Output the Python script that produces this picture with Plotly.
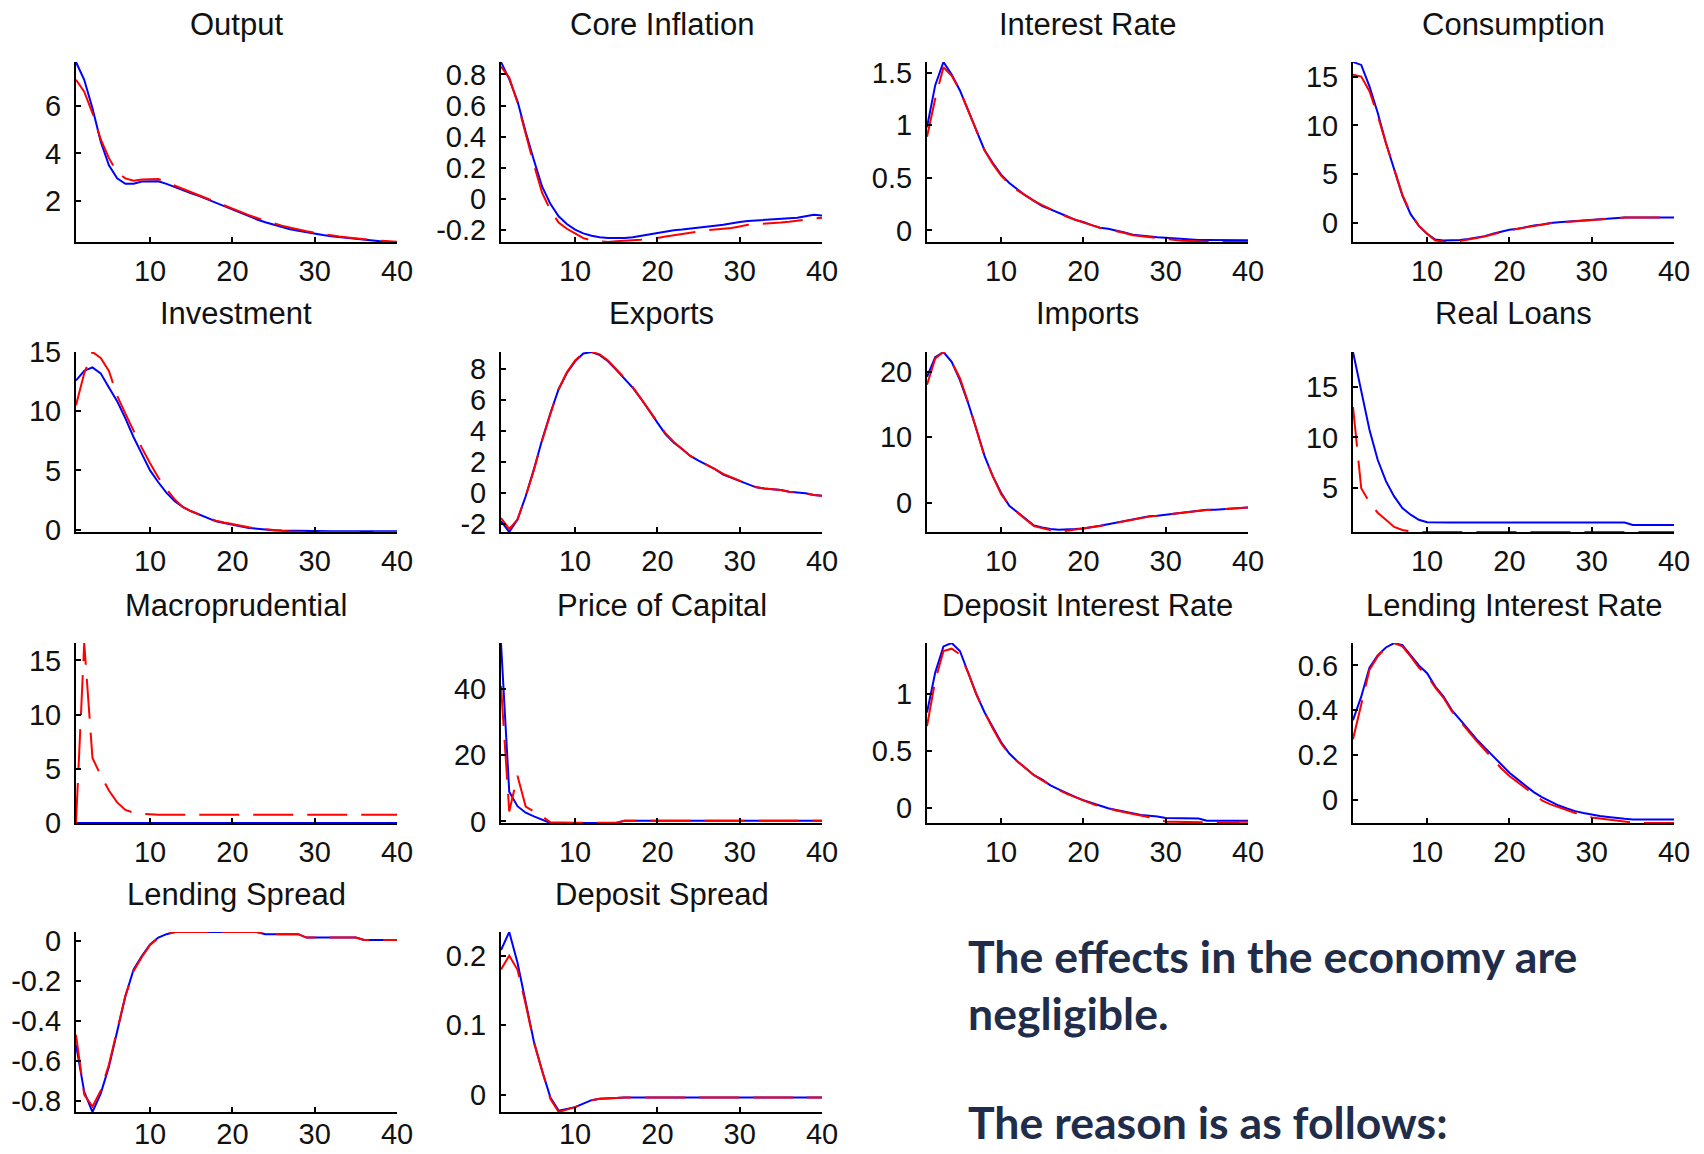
import plotly.graph_objects as go

periods = list(range(1, 41))

titles = ["Output", "Core Inflation", "Interest Rate", "Consumption",
          "Investment", "Exports", "Imports", "Real Loans",
          "Macroprudential", "Price of Capital", "Deposit Interest Rate", "Lending Interest Rate",
          "Lending Spread", "Deposit Spread"]

output_blue = [7.85, 7.1, 5.9, 4.5, 3.5, 2.95, 2.72, 2.72, 2.82, 2.83, 2.83, 2.72, 2.58, 2.45, 2.32, 2.2, 2.06, 1.92, 1.78, 1.63,
               1.48, 1.34, 1.22, 1.1, 1.0, 0.9, 0.81, 0.74, 0.67, 0.62, 0.56, 0.51, 0.47, 0.43, 0.4, 0.36, 0.33, 0.3, 0.28, 0.27]
output_red = [7.1, 6.6, 5.7, 4.6, 3.8, 3.2, 2.95, 2.85, 2.9, 2.92, 2.92, 2.78, 2.64, 2.5, 2.37, 2.25, 2.1, 1.97, 1.83, 1.68,
              1.53, 1.4, 1.28, 1.16, 1.06, 0.96, 0.87, 0.79, 0.72, 0.66, 0.6, 0.55, 0.5, 0.46, 0.42, 0.38, 0.35, 0.32, 0.3, 0.28]

infl_blue = [0.88, 0.77, 0.63, 0.43, 0.25, 0.08, -0.03, -0.11, -0.16, -0.195, -0.22, -0.235, -0.245, -0.25, -0.25, -0.25, -0.245, -0.235, -0.228, -0.217,
             -0.21, -0.2, -0.195, -0.188, -0.182, -0.175, -0.17, -0.165, -0.155, -0.147, -0.14, -0.137, -0.133, -0.13, -0.128, -0.125, -0.12, -0.11, -0.1, -0.105]
infl_red = [0.85, 0.78, 0.62, 0.42, 0.22, 0.04, -0.07, -0.15, -0.19, -0.22, -0.25, -0.265, -0.27, -0.275, -0.27, -0.268, -0.265, -0.26, -0.255, -0.25,
            -0.24, -0.232, -0.225, -0.215, -0.205, -0.2, -0.195, -0.19, -0.185, -0.175, -0.165, -0.16, -0.158, -0.155, -0.15, -0.145, -0.14, -0.132, -0.125, -0.12]

rate_blue = [0.98, 1.38, 1.6, 1.48, 1.33, 1.14, 0.94, 0.76, 0.64, 0.53, 0.45, 0.39, 0.33, 0.28, 0.23, 0.2, 0.17, 0.135, 0.1, 0.08,
             0.05, 0.025, 0.015, 0.0, -0.02, -0.04, -0.05, -0.055, -0.065, -0.07, -0.075, -0.085, -0.088, -0.09, -0.09, -0.09, -0.092, -0.092, -0.093, -0.093]
rate_red = [0.89, 1.25, 1.55, 1.47, 1.33, 1.14, 0.94, 0.76, 0.63, 0.52, 0.44, 0.38, 0.33, 0.28, 0.24, 0.2, 0.165, 0.13, 0.1, 0.075,
            0.05, 0.025, 0.01, -0.005, -0.025, -0.045, -0.055, -0.065, -0.075, -0.08, -0.09, -0.098, -0.1, -0.105, -0.108, -0.11, -0.11, -0.11, -0.11, -0.11]

cons_blue = [16.5, 16.2, 14.0, 11.3, 8.2, 5.5, 2.8, 0.9, -0.3, -1.1, -1.7, -1.8, -1.8, -1.75, -1.65, -1.5, -1.35, -1.1, -0.9, -0.7,
             -0.6, -0.4, -0.27, -0.15, 0.0, 0.07, 0.13, 0.24, 0.3, 0.34, 0.4, 0.5, 0.55, 0.55, 0.55, 0.55, 0.55, 0.55, 0.55, 0.55]
cons_red = [15.2, 15.0, 13.5, 11.0, 8.2, 5.5, 2.9, 1.0, -0.3, -1.1, -1.8, -1.9, -1.95, -1.85, -1.7, -1.55, -1.4, -1.15, -0.95, -0.75,
            -0.6, -0.45, -0.3, -0.15, -0.02, 0.05, 0.12, 0.2, 0.27, 0.33, 0.4, 0.48, 0.53, 0.55, 0.55, 0.55, 0.55, 0.55, 0.55, 0.55]

inv_blue = [12.6, 13.4, 13.7, 13.2, 12.0, 10.85, 9.4, 7.8, 6.4, 5.0, 4.0, 3.1, 2.4, 1.9, 1.55, 1.27, 1.0, 0.7, 0.56, 0.42,
            0.28, 0.14, 0.08, 0.0, -0.05, -0.08, -0.1, -0.12, -0.13, -0.14, -0.14, -0.14, -0.14, -0.14, -0.14, -0.14, -0.14, -0.14, -0.14, -0.14]
inv_red = [10.5, 13.2, 15.0, 14.5, 13.4, 11.3, 9.8, 8.3, 6.9, 5.6, 4.4, 3.4, 2.55, 1.9, 1.55, 1.27, 1.0, 0.75, 0.6, 0.45,
           0.3, 0.2, 0.1, 0.02, -0.05, -0.1, -0.15, -0.2, -0.2, -0.2, -0.2, -0.2, -0.2, -0.2, -0.2, -0.2, -0.2, -0.2, -0.2, -0.2]

exp_blue = [-1.8, -2.5, -1.7, -0.2, 1.55, 3.45, 5.15, 6.7, 7.75, 8.5, 9.0, 9.1, 8.9, 8.5, 7.95, 7.4, 6.8, 6.1, 5.3, 4.55,
            3.8, 3.25, 2.85, 2.4, 2.1, 1.85, 1.55, 1.2, 1.0, 0.8, 0.6, 0.38, 0.3, 0.25, 0.2, 0.1, 0.05, 0.0, -0.12, -0.17]
exp_red = [-1.6, -2.3, -1.7, -0.2, 1.5, 3.4, 5.1, 6.7, 7.8, 8.55, 9.05, 9.1, 8.95, 8.55, 8.0, 7.4, 6.85, 6.1, 5.35, 4.6,
           3.85, 3.3, 2.85, 2.4, 2.1, 1.85, 1.55, 1.25, 1.0, 0.8, 0.6, 0.4, 0.3, 0.25, 0.2, 0.1, 0.05, 0.0, -0.12, -0.17]

imp_blue = [19.2, 22.2, 23.0, 21.5, 18.7, 15.2, 11.2, 7.1, 4.0, 1.5, -0.5, -1.5, -2.5, -3.5, -3.8, -4.05, -4.15, -4.15, -4.05, -3.95,
            -3.8, -3.55, -3.3, -3.05, -2.8, -2.55, -2.3, -2.1, -2.0, -1.85, -1.75, -1.6, -1.4, -1.25, -1.1, -1.1, -1.0, -0.85, -0.75, -0.75]
imp_red = [18.0, 22.0, 23.0, 21.5, 19.0, 15.3, 11.2, 7.0, 4.0, 1.3, -0.5, -1.6, -2.6, -3.6, -3.9, -4.2, -4.5, -4.3, -4.15, -4.0,
           -3.85, -3.6, -3.35, -3.1, -2.8, -2.55, -2.35, -2.15, -2.0, -1.85, -1.75, -1.6, -1.45, -1.3, -1.15, -1.1, -1.0, -0.9, -0.8, -0.75]

loans_blue = [18.4, 14.7, 10.75, 7.8, 5.7, 4.2, 3.05, 2.4, 1.9, 1.67, 1.64, 1.64, 1.64, 1.64, 1.64, 1.64, 1.64, 1.64, 1.64, 1.64,
              1.64, 1.64, 1.64, 1.64, 1.64, 1.64, 1.64, 1.64, 1.64, 1.64, 1.64, 1.64, 1.64, 1.64, 1.4, 1.4, 1.4, 1.4, 1.4, 1.4]
loans_red = [13.0, 5.0, 3.6, 2.6, 1.9, 1.2, 0.9, 0.75, 0.7, 0.7, 0.7, 0.7, 0.7, 0.7, 0.7, 0.7, 0.7, 0.7, 0.7, 0.7,
             0.7, 0.7, 0.7, 0.7, 0.7, 0.7, 0.7, 0.7, 0.7, 0.7, 0.7, 0.7, 0.7, 0.7, 0.7, 0.7, 0.7, 0.7, 0.7, 0.7]

macro_blue = [0.0, 0.0, 0.0, 0.0, 0.0, 0.0, 0.0, 0.0, 0.0, 0.0, 0.0, 0.0, 0.0, 0.0, 0.0, 0.0, 0.0, 0.0, 0.0, 0.0,
              0.0, 0.0, 0.0, 0.0, 0.0, 0.0, 0.0, 0.0, 0.0, 0.0, 0.0, 0.0, 0.0, 0.0, 0.0, 0.0, 0.0, 0.0, 0.0, 0.0]
macro_red = [0.0, 16.6, 6.0, 4.4, 3.0, 1.9, 1.2, 0.95, 0.85, 0.78, 0.75, 0.75, 0.75, 0.75, 0.75, 0.75, 0.75, 0.75, 0.75, 0.75,
             0.75, 0.75, 0.75, 0.75, 0.75, 0.75, 0.75, 0.75, 0.75, 0.75, 0.75, 0.75, 0.75, 0.75, 0.75, 0.75, 0.75, 0.75, 0.75, 0.75]

pk_blue = [54.0, 9.0, 4.6, 2.6, 1.5, 0.5, -0.5, -0.5, -0.5, -0.5, -0.5, -0.5, -0.5, -0.5, -0.5, 0.2, 0.2, 0.2, 0.2, 0.2,
           0.2, 0.2, 0.2, 0.2, 0.2, 0.2, 0.2, 0.2, 0.2, 0.2, 0.2, 0.2, 0.2, 0.2, 0.2, 0.2, 0.2, 0.2, 0.2, 0.2]
pk_red = [41.0, 3.0, 13.8, 4.5, 3.0, 1.5, -0.3, -0.4, -0.4, -0.4, -0.4, -0.4, -0.4, -0.4, -0.4, 0.2, 0.2, 0.2, 0.2, 0.2,
          0.2, 0.2, 0.2, 0.2, 0.2, 0.2, 0.2, 0.2, 0.2, 0.2, 0.2, 0.2, 0.2, 0.2, 0.2, 0.2, 0.2, 0.2, 0.2, 0.2]

dep_blue = [0.84, 1.19, 1.42, 1.45, 1.38, 1.19, 1.0, 0.84, 0.71, 0.58, 0.48, 0.41, 0.35, 0.29, 0.25, 0.2, 0.165, 0.13, 0.1, 0.07,
            0.045, 0.02, 0.0, -0.015, -0.03, -0.045, -0.06, -0.067, -0.073, -0.087, -0.087, -0.087, -0.09, -0.09, -0.11, -0.11, -0.11, -0.11, -0.11, -0.11]
dep_red = [0.72, 1.12, 1.38, 1.4, 1.35, 1.19, 1.0, 0.84, 0.7, 0.57, 0.47, 0.41, 0.35, 0.29, 0.245, 0.2, 0.16, 0.125, 0.095, 0.065,
           0.04, 0.015, -0.005, -0.02, -0.035, -0.05, -0.065, -0.08, -0.085, -0.12, -0.12, -0.12, -0.12, -0.12, -0.12, -0.12, -0.125, -0.13, -0.12, -0.12]

lend_blue = [0.355, 0.46, 0.59, 0.645, 0.68, 0.7, 0.69, 0.645, 0.6, 0.565, 0.505, 0.46, 0.4, 0.357, 0.313, 0.27, 0.232, 0.195, 0.158, 0.12,
             0.09, 0.062, 0.032, 0.01, -0.009, -0.027, -0.04, -0.052, -0.06, -0.068, -0.074, -0.078, -0.083, -0.086, -0.089, -0.089, -0.089, -0.089, -0.089, -0.089]
lend_red = [0.27, 0.42, 0.58, 0.64, 0.68, 0.7, 0.685, 0.64, 0.59, 0.555, 0.5, 0.455, 0.395, 0.35, 0.305, 0.262, 0.222, 0.182, 0.14, 0.105,
            0.078, 0.05, 0.02, -0.005, -0.022, -0.035, -0.048, -0.06, -0.07, -0.08, -0.085, -0.09, -0.095, -0.1, -0.103, -0.105, -0.105, -0.105, -0.105, -0.105]

lspread_blue = [-0.52, -0.756, -0.857, -0.765, -0.63, -0.445, -0.277, -0.143, -0.076, -0.017, 0.017, 0.034, 0.045, 0.045, 0.045, 0.045, 0.045, 0.045, 0.045, 0.045,
                0.045, 0.045, 0.045, 0.034, 0.034, 0.034, 0.034, 0.034, 0.017, 0.017, 0.017, 0.017, 0.017, 0.017, 0.017, 0.005, 0.005, 0.005, 0.005, 0.005]
lspread_red = [-0.47, -0.77, -0.83, -0.75, -0.62, -0.44, -0.275, -0.15, -0.08, -0.02, 0.015, 0.034, 0.045, 0.045, 0.045, 0.045, 0.045, 0.045, 0.045, 0.045,
               0.045, 0.045, 0.045, 0.034, 0.034, 0.034, 0.034, 0.034, 0.017, 0.017, 0.017, 0.017, 0.017, 0.017, 0.017, 0.005, 0.005, 0.005, 0.005, 0.005]

dspread_blue = [0.208, 0.234, 0.19, 0.133, 0.076, 0.034, -0.004, -0.023, -0.02, -0.018, -0.013, -0.008, -0.006, -0.006, -0.005, -0.004, -0.004, -0.004, -0.004, -0.004,
                -0.004, -0.004, -0.004, -0.004, -0.004, -0.004, -0.004, -0.004, -0.004, -0.004, -0.004, -0.004, -0.004, -0.004, -0.004, -0.004, -0.004, -0.004, -0.004, -0.004]
dspread_red = [0.18, 0.2, 0.18, 0.13, 0.075, 0.033, -0.006, -0.025, -0.022, -0.018, -0.013, -0.008, -0.006, -0.006, -0.005, -0.004, -0.004, -0.004, -0.004, -0.004,
               -0.004, -0.004, -0.004, -0.004, -0.004, -0.004, -0.004, -0.004, -0.004, -0.004, -0.004, -0.004, -0.004, -0.004, -0.004, -0.004, -0.004, -0.004, -0.004, -0.004]

blue_series = [output_blue, infl_blue, rate_blue, cons_blue, inv_blue, exp_blue, imp_blue, loans_blue,
               macro_blue, pk_blue, dep_blue, lend_blue, lspread_blue, dspread_blue]
red_series = [output_red, infl_red, rate_red, cons_red, inv_red, exp_red, imp_red, loans_red,
              macro_red, pk_red, dep_red, lend_red, lspread_red, dspread_red]

y_ticks = [[2, 4, 6], [-0.2, 0, 0.2, 0.4, 0.6, 0.8], [0, 0.5, 1, 1.5], [0, 5, 10, 15],
           [0, 5, 10, 15], [-2, 0, 2, 4, 6, 8], [0, 10, 20], [5, 10, 15],
           [0, 5, 10, 15], [0, 20, 40], [0, 0.5, 1], [0, 0.2, 0.4, 0.6],
           [-0.8, -0.6, -0.4, -0.2, 0], [0, 0.1, 0.2]]
y_ticktext = [["2", "4", "6"], ["-0.2", "0", "0.2", "0.4", "0.6", "0.8"], ["0", "0.5", "1", "1.5"], ["0", "5", "10", "15"],
              ["0", "5", "10", "15"], ["-2", "0", "2", "4", "6", "8"], ["0", "10", "20"], ["5", "10", "15"],
              ["0", "5", "10", "15"], ["0", "20", "40"], ["0", "0.5", "1"], ["0", "0.2", "0.4", "0.6"],
              ["-0.8", "-0.6", "-0.4", "-0.2", "0"], ["0", "0.1", "0.2"]]
x_ticks = [10, 20, 30, 40]
x_ticktext = ["10", "20", "30", "40"]

note_lines = ["The effects in the economy are", "negligible.", "The reason is as follows:"]

W, H = 1704, 1154
col_left = [76, 501, 927, 1353]
row_top = [62, 352, 643, 932]
pw, ph = 321, 180

fig = go.Figure()
layout = dict(width=W, height=H, autosize=False, margin=dict(l=0, r=0, t=0, b=0, pad=0),
              paper_bgcolor="white", plot_bgcolor="white", showlegend=False,
              font=dict(family="Liberation Sans, Arial, sans-serif", size=29, color="black"))
annotations = []
tickfont = dict(family="Liberation Sans, Arial, sans-serif", size=29, color="#111111")

for i, title in enumerate(titles):
    r, c = divmod(i, 4)
    n = "" if i == 0 else str(i + 1)
    x0 = col_left[c] / W
    x1 = (col_left[c] + pw) / W
    y1 = 1 - row_top[r] / H
    y0 = 1 - (row_top[r] + ph) / H
    b = blue_series[i]
    rd = red_series[i]
    fig.add_trace(go.Scatter(x=periods, y=b, mode="lines", line=dict(color="#0000FF", width=2),
                             xaxis="x" + n, yaxis="y" + n))
    fig.add_trace(go.Scatter(x=periods, y=rd, mode="lines", line=dict(color="#FF0000", width=2, dash="40px,14px"),
                             xaxis="x" + n, yaxis="y" + n))
    ymin = min(min(b), min(rd))
    ymax = max(max(b), max(rd))
    standoff_x = -5 if r == 3 else 2
    layout["xaxis" + n] = dict(domain=[x0, x1], anchor="y" + n, range=[1, 40], showgrid=False, zeroline=False,
                               automargin=False,
                               showline=True, linecolor="black", linewidth=2, ticks="inside", ticklen=5,
                               tickwidth=1.5, tickcolor="black", tickvals=x_ticks, ticktext=x_ticktext,
                               tickfont=tickfont, ticklabelstandoff=standoff_x)
    layout["yaxis" + n] = dict(domain=[y0, y1], anchor="x" + n, range=[ymin, ymax], showgrid=False, zeroline=False,
                               automargin=False,
                               showline=True, linecolor="black", linewidth=2, ticks="inside", ticklen=5,
                               tickwidth=1.5, tickcolor="black", tickvals=y_ticks[i], ticktext=y_ticktext[i],
                               tickfont=tickfont, ticklabelstandoff=7)
    annotations.append(dict(text=title, xref="paper", yref="paper", x=(col_left[c] + pw / 2) / W,
                            y=1 - (row_top[r] - 38) / H, xanchor="center", yanchor="middle", showarrow=False,
                            font=dict(family="Liberation Sans, Arial, sans-serif", size=31, color="#111111")))

note_y = [955, 1012, 1121]
for txt, yy in zip(note_lines, note_y):
    annotations.append(dict(text="<b>" + txt + "</b>", xref="paper", yref="paper", x=966 / W, y=1 - yy / H,
                            xanchor="left", yanchor="middle", showarrow=False,
                            font=dict(family="Lato, Open Sans, sans-serif", size=44.6, color="#1F2D4A")))

layout["annotations"] = annotations
fig.update_layout(**layout)
fig.write_html("out.html", config={"displayModeBar": False},
               post_script="document.body.style.margin='0';document.body.style.overflow='hidden';")
